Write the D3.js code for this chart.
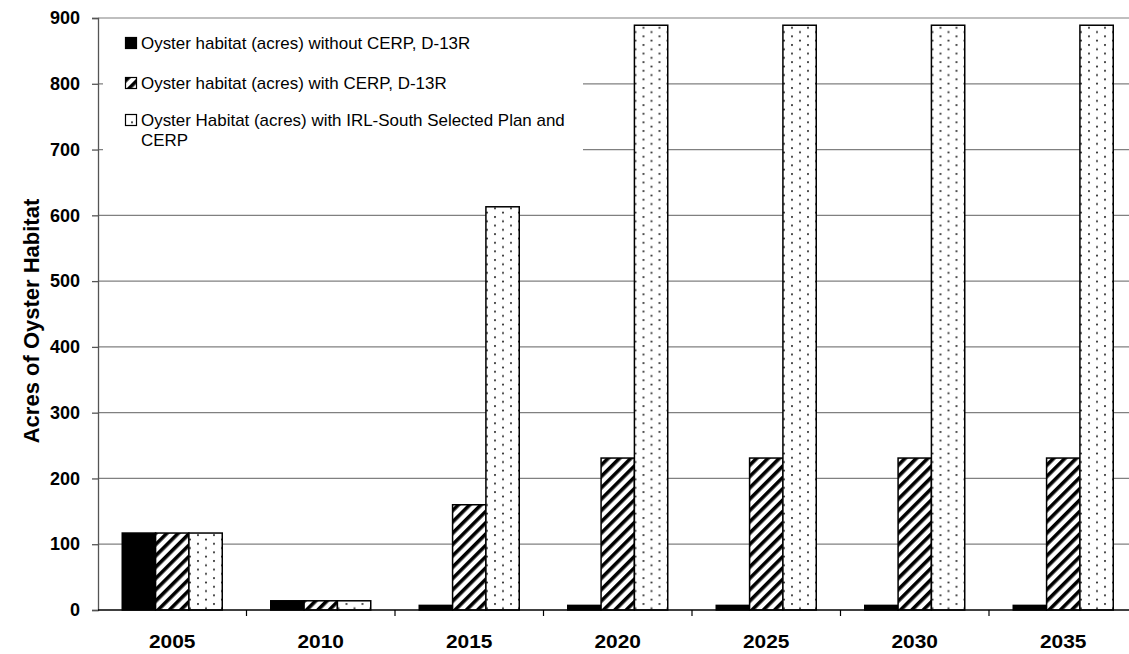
<!DOCTYPE html>
<html>
<head>
<meta charset="utf-8">
<script src="https://cdn.jsdelivr.net/npm/d3@7/dist/d3.min.js"></script>
<style>
  html, body { margin: 0; padding: 0; background: #fff; }
  svg { display: block; font-family: "Liberation Sans", Arial, sans-serif; }
</style>
</head>
<body>
<svg id="chart" width="1129" height="654"></svg>
<script>
// Years on the category axis
const years = ["2005", "2010", "2015", "2020", "2025", "2030", "2035"];

// Series names (legend text)
const seriesNames = [
  "Oyster habitat (acres) without CERP, D-13R",
  "Oyster habitat (acres) with CERP, D-13R",
  "Oyster Habitat (acres) with IRL-South Selected Plan and CERP"
];

// Acres of oyster habitat per year
const withoutCERP = [117, 14, 7, 7, 7, 7, 7];
const withCERP    = [117, 14, 160, 231, 231, 231, 231];
const withIRLS    = [117, 14, 613, 889, 889, 889, 889];

// Y-axis tick values
const yTicks = [0, 100, 200, 300, 400, 500, 600, 700, 800, 900];

const svg = d3.select("#chart");
const margin = { left: 98, top: 18, bottom: 610, right: 1137.5 };

// Pattern fills for the three series
const defs = svg.append("defs");
const hatch = defs.append("pattern")
  .attr("id", "hatch").attr("patternUnits", "userSpaceOnUse")
  .attr("width", 8).attr("height", 8)
  .attr("patternTransform", "rotate(45)");
hatch.append("rect").attr("width", 8).attr("height", 8).attr("fill", "#fff");
hatch.append("rect").attr("x", 0).attr("width", 3.6).attr("height", 8).attr("fill", "#000");

const dots = defs.append("pattern")
  .attr("id", "dots").attr("patternUnits", "userSpaceOnUse")
  .attr("width", 16).attr("height", 8.6);
dots.append("rect").attr("width", 16).attr("height", 8.6).attr("fill", "#fff");
dots.append("circle").attr("cx", 4).attr("cy", 2).attr("r", 1.05).attr("fill", "#2a2a2a");
dots.append("circle").attr("cx", 12).attr("cy", 6.3).attr("r", 1.05).attr("fill", "#2a2a2a");

const fills = ["#000", "url(#hatch)", "url(#dots)"];
const seriesData = [withoutCERP, withCERP, withIRLS];

// Scales
const x = d3.scaleBand().domain(years).range([margin.left, margin.right]).padding(0);
const bw = x.bandwidth();
const groupW = bw * 100 / 148.5;
const xs = d3.scaleBand().domain(d3.range(3)).range([(bw - groupW) / 2, (bw + groupW) / 2]).padding(0);
const y = d3.scaleLinear().domain([0, 900]).range([margin.bottom, margin.top]);

// Gridlines
svg.append("g").selectAll("line").data(yTicks.filter(d => d > 0)).join("line")
  .attr("x1", margin.left).attr("x2", margin.right)
  .attr("y1", d => y(d)).attr("y2", d => y(d))
  .attr("stroke", "#808080").attr("stroke-width", 1.2);

// Legend box (white background hides gridlines behind it)
const legend = svg.append("g");
legend.append("rect").attr("x", 103).attr("y", 24).attr("width", 480).attr("height", 170).attr("fill", "#fff");
const legendRows = [43, 83, 120];
seriesNames.forEach((name, i) => {
  legend.append("rect")
    .attr("x", 125.5).attr("y", legendRows[i] - 5.5).attr("width", 11).attr("height", 11)
    .attr("fill", fills[i]).attr("stroke", "#000").attr("stroke-width", 1.2);
  const t = legend.append("text")
    .attr("transform", `translate(141,${legendRows[i] + 6}) scale(1.06,1)`)
    .attr("font-size", 16).attr("fill", "#000");
  if (i === 2) {
    t.append("tspan").attr("x", 0).text("Oyster Habitat (acres) with IRL-South Selected Plan and");
    t.append("tspan").attr("x", 0).attr("dy", 20).text("CERP");
  } else {
    t.text(name);
  }
});

// Bars
const groups = svg.append("g").selectAll("g").data(years).join("g")
  .attr("transform", d => `translate(${x(d)},0)`);
groups.selectAll("rect").data((d, yi) => seriesData.map((s, si) => ({ si, v: s[yi] }))).join("rect")
  .attr("x", d => xs(d.si))
  .attr("y", d => y(d.v))
  .attr("width", xs.bandwidth())
  .attr("height", d => y(0) - y(d.v))
  .attr("fill", d => fills[d.si])
  .attr("stroke", "#000").attr("stroke-width", 1.5);

// Y axis
const yAxis = svg.append("g").attr("transform", `translate(${margin.left},0)`)
  .call(d3.axisLeft(y).tickValues(yTicks).tickSize(6).tickPadding(12));
yAxis.select(".domain").attr("stroke", "#555").attr("stroke-width", 1.3);
yAxis.selectAll(".tick line").attr("stroke", "#555").attr("stroke-width", 1.3);
yAxis.selectAll("text").attr("font-size", 18).attr("font-weight", "bold")
  .attr("font-family", "Liberation Sans, Arial, sans-serif").attr("fill", "#000");

// X axis line with ticks at category boundaries
svg.append("line").attr("x1", margin.left).attr("x2", margin.right)
  .attr("y1", y(0)).attr("y2", y(0)).attr("stroke", "#000").attr("stroke-width", 1.5);
svg.append("g").selectAll("line").data(years.slice(1)).join("line")
  .attr("x1", d => x(d)).attr("x2", d => x(d))
  .attr("y1", y(0)).attr("y2", y(0) + 6)
  .attr("stroke", "#000").attr("stroke-width", 1.2);
svg.append("g").selectAll("text").data(years).join("text")
  .attr("transform", d => `translate(${x(d) + bw / 2},648) scale(1.1,1)`)
  .attr("text-anchor", "middle").attr("font-size", 19).attr("font-weight", "bold")
  .text(d => d);

// Y-axis title
svg.append("text")
  .attr("transform", "translate(39,321) rotate(-90)")
  .attr("text-anchor", "middle").attr("font-size", 22).attr("font-weight", "bold")
  .text("Acres of Oyster Habitat");
</script>
</body>
</html>
